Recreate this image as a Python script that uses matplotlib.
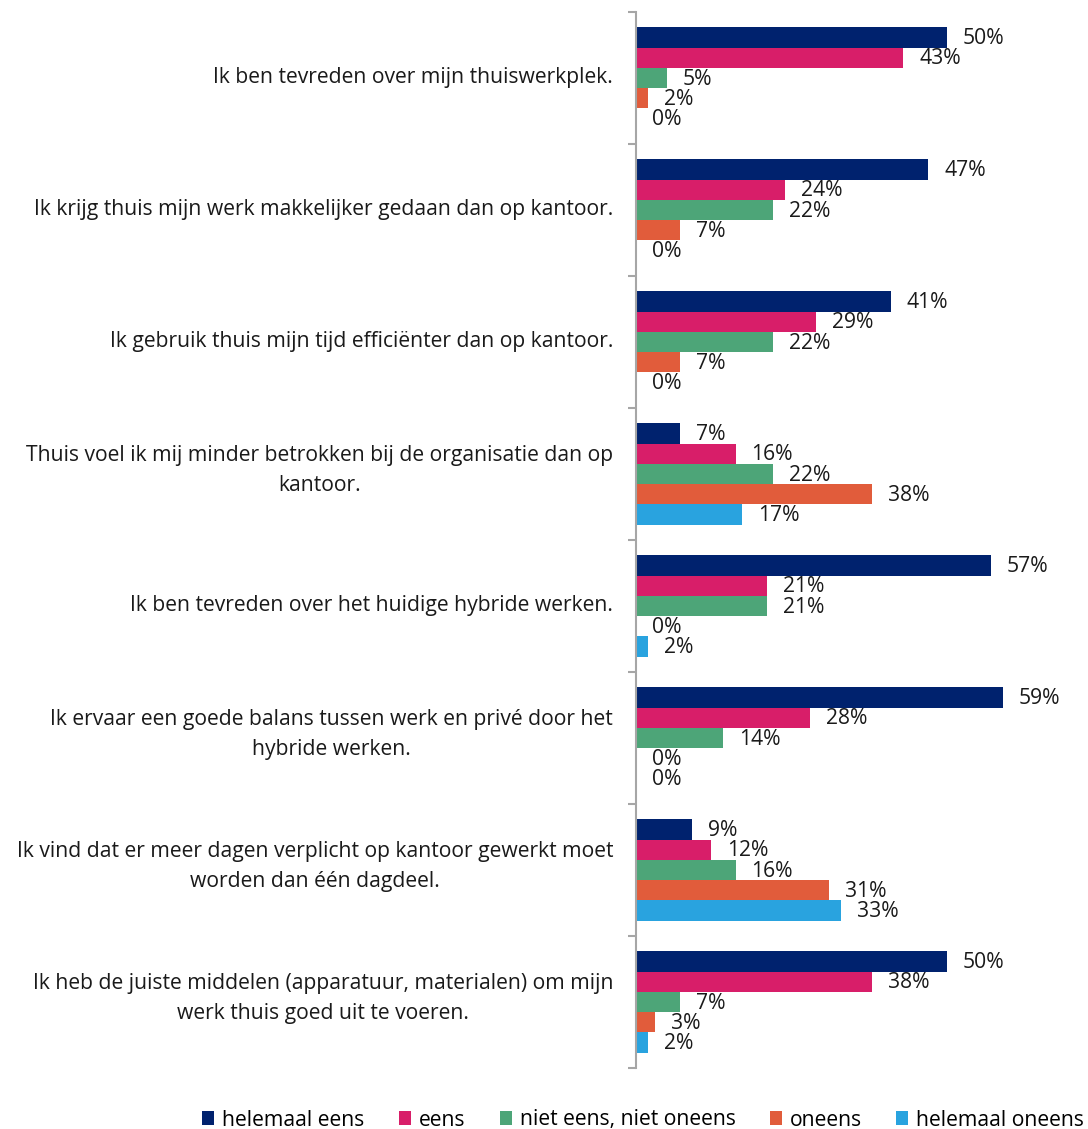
import numpy as np
import matplotlib
matplotlib.use('Agg')
import matplotlib.pyplot as plt
from matplotlib.patches import Patch

plt.rcParams['font.family'] = ['Open Sans', 'DejaVu Sans']

statements = [
    'Ik ben tevreden over mijn thuiswerkplek.',
    'Ik krijg thuis mijn werk makkelijker gedaan dan op kantoor.',
    'Ik gebruik thuis mijn tijd efficiënter dan op kantoor.',
    'Thuis voel ik mij minder betrokken bij de organisatie dan op\nkantoor.',
    'Ik ben tevreden over het huidige hybride werken.',
    'Ik ervaar een goede balans tussen werk en privé door het\nhybride werken.',
    'Ik vind dat er meer dagen verplicht op kantoor gewerkt moet\nworden dan één dagdeel.',
    'Ik heb de juiste middelen (apparatuur, materialen) om mijn\nwerk thuis goed uit te voeren.',
]
series = ['helemaal eens', 'eens', 'niet eens, niet oneens', 'oneens', 'helemaal oneens']
helemaal_eens = [50, 47, 41, 7, 57, 59, 9, 50]
eens = [43, 24, 29, 16, 21, 28, 12, 38]
neutraal = [5, 22, 22, 22, 21, 14, 16, 7]
oneens = [2, 7, 7, 38, 0, 0, 31, 3]
helemaal_oneens = [0, 0, 0, 17, 2, 0, 33, 2]
colors = ['#00226E', '#D81E69', '#4DA578', '#E15C3B', '#29A3DF']

data = [helemaal_eens, eens, neutraal, oneens, helemaal_oneens]
fs = 15.2

fig = plt.figure(figsize=(10.88, 11.29), dpi=100)
ax = fig.add_axes([636 / 1088, 1 - 1068 / 1129, 1 - 636 / 1088, (1068 - 12) / 1129])

y = np.arange(len(statements))
h = 0.154
for j, vals in enumerate(data):
    pos = y + (j - 2) * h
    ax.barh(pos, vals, height=h, color=colors[j], linewidth=0)
    for p, v in zip(pos, vals):
        ax.annotate('%d%%' % v, (v, p), xytext=(11.5, -0.8), textcoords='offset points',
                    va='center', ha='left', fontsize=fs, color='#1A1A1A')

ax.set_xlim(0, 452 / 6.22)
ax.set_ylim(len(statements) - 0.5, -0.5)

for s in ['top', 'right', 'bottom']:
    ax.spines[s].set_visible(False)
ax.spines['left'].set_color('#A6A6A6')
ax.spines['left'].set_linewidth(1.5)
ax.set_xticks([])

# labels drawn as text so multi-line ones can sit a bit higher, like the original
ax.set_yticks(y)
ax.set_yticklabels([])
ax.tick_params(axis='y', which='major', length=0)
for yi, txt in zip(y, statements):
    dy = 2.5 if '\n' in txt else 0
    ax.annotate(txt, (0, yi), xycoords=('axes fraction', 'data'), xytext=(-16.5, dy),
                textcoords='offset points', ha='right', va='center', multialignment='center',
                fontsize=fs, color='#1A1A1A', linespacing=1.55)
ax.set_yticks(np.arange(len(statements) + 1) - 0.5, minor=True)
ax.tick_params(axis='y', which='minor', length=5.5, width=1.5, color='#A6A6A6')

handles = [Patch(facecolor=c, edgecolor='none', label=s) for c, s in zip(colors, series)]
fig.legend(handles=handles, loc='center right', bbox_to_anchor=(1084 / 1088, 1 - 1120 / 1129),
           ncol=5, frameon=False, fontsize=fs, handlelength=0.57, handleheight=0.65,
           handletextpad=0.38, columnspacing=1.62, borderpad=0, borderaxespad=0)

fig.savefig('out.png', dpi=100)
